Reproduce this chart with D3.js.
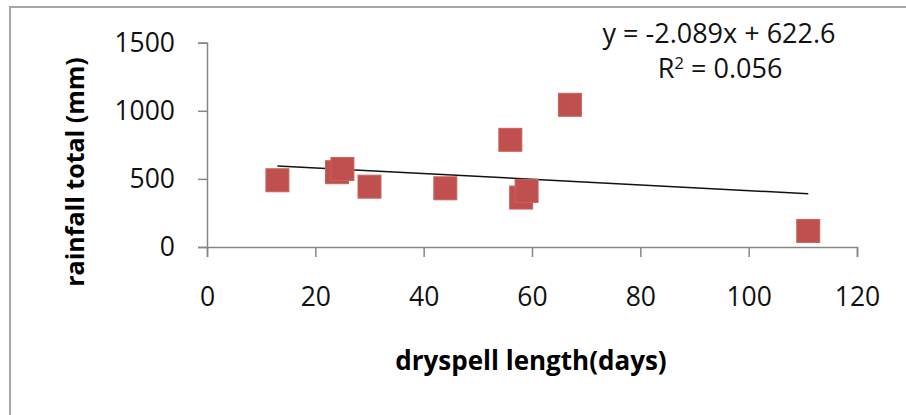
<!DOCTYPE html>
<html>
<head>
<meta charset="utf-8">
<script src="https://cdn.jsdelivr.net/npm/d3@7"></script>
<style>
  html, body { margin: 0; padding: 0; background: #fff; }
  svg { display: block; }
</style>
</head>
<body>
<svg id="chart" width="906" height="415"></svg>
<script>
// ---- data ----
const dryspellDays = [13, 24, 25, 30, 44, 56, 58, 59, 67, 111];
const rainfallMm   = [490, 549, 573, 443, 431, 787, 363, 412, 1044, 118];
const xTickValues  = [0, 20, 40, 60, 80, 100, 120];
const yTickValues  = [0, 500, 1000, 1500];
const trendSlope = -2.089;
const trendIntercept = 622.6;
const equationLabel = "y = -2.089x + 622.6";
const r2Label = "0.056";
const xTitle = "dryspell length(days)";
const yTitle = "rainfall total (mm)";

const svg = d3.select("#chart");
const FONT = "'Open Sans', 'DejaVu Sans', sans-serif";

// outer chart border (top and left visible)
svg.append("path")
  .attr("d", "M10,415 V7 H906")
  .attr("fill", "none")
  .attr("stroke", "#a6a6a6")
  .attr("stroke-width", 2);

const x = d3.scaleLinear().domain([0, 120]).range([207, 857]);
const y = d3.scaleLinear().domain([0, 1500]).range([247, 42.7]);

const axisColor = "#868686";

// X axis
const gx = svg.append("g")
  .attr("transform", `translate(0,${y(0)})`)
  .call(d3.axisBottom(x).tickValues(xTickValues).tickFormat(d3.format("d"))
    .tickSize(10).tickSizeOuter(10).tickPadding(30));
// Y axis
const gy = svg.append("g")
  .attr("transform", `translate(${x(0)},0)`)
  .call(d3.axisLeft(y).tickValues(yTickValues).tickFormat(d3.format("d"))
    .tickSize(9).tickSizeOuter(9).tickPadding(23));

[gx, gy].forEach(g => {
  g.select(".domain").attr("stroke", axisColor).attr("stroke-width", 1.5);
  g.selectAll(".tick line").attr("stroke", axisColor).attr("stroke-width", 1.5);
  g.selectAll(".tick text")
    .attr("fill", "#111")
    .style("font-family", FONT)
    .style("font-size", "26.5px");
});

// trendline
const xMin = d3.min(dryspellDays), xMax = d3.max(dryspellDays);
svg.append("line")
  .attr("x1", x(xMin)).attr("y1", y(trendSlope * xMin + trendIntercept))
  .attr("x2", x(xMax)).attr("y2", y(trendSlope * xMax + trendIntercept))
  .attr("stroke", "#111")
  .attr("stroke-width", 1.5);

// markers
const pts = dryspellDays.map((d, i) => ({ d, r: rainfallMm[i] }));
const S = 23;
svg.append("g").selectAll("rect")
  .data(pts)
  .join("rect")
  .attr("x", p => x(p.d) - S / 2)
  .attr("y", p => y(p.r) - S / 2)
  .attr("width", S)
  .attr("height", S)
  .attr("fill", "#c0504d")
  .attr("stroke", "#c9625f")
  .attr("stroke-width", 1);

// equation labels
svg.append("text")
  .attr("x", 719).attr("y", 43)
  .attr("text-anchor", "middle")
  .style("font-family", FONT).style("font-size", "27px")
  .attr("fill", "#111")
  .text(equationLabel);

const r2 = svg.append("text")
  .attr("x", 720).attr("y", 78)
  .attr("text-anchor", "middle")
  .style("font-family", FONT).style("font-size", "27px")
  .attr("fill", "#111");
r2.append("tspan").text("R");
r2.append("tspan").text("2").attr("dy", -9).style("font-size", "17px");
r2.append("tspan").text(" = " + r2Label).attr("dy", 9);

// axis titles
svg.append("text")
  .attr("x", 531).attr("y", 370)
  .attr("text-anchor", "middle")
  .style("font-family", FONT).style("font-size", "26px").style("font-weight", "bold")
  .attr("fill", "#000")
  .text(xTitle);

svg.append("text")
  .attr("transform", "translate(84,172) rotate(-90)")
  .attr("text-anchor", "middle")
  .style("font-family", FONT).style("font-size", "25px").style("font-weight", "bold")
  .attr("fill", "#000")
  .text(yTitle);
</script>
</body>
</html>
